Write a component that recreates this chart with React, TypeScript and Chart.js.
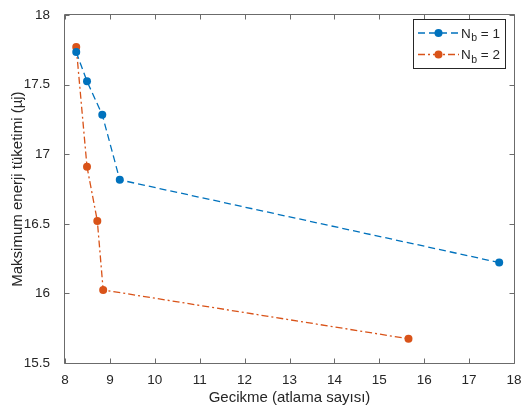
import React, { useEffect, useRef } from "react";
import { Chart, registerables } from "chart.js";

Chart.register(...registerables);

// ---- data ----
const nb1X = [8.25, 8.49, 8.83, 9.22, 17.67];
const nb1Y = [17.734, 17.524, 17.284, 16.816, 16.222];
const nb2X = [8.25, 8.49, 8.72, 8.85, 15.65];
const nb2Y = [17.771, 16.91, 16.521, 16.025, 15.674];
const seriesNames = ["1", "2"];
const xTitle = "Gecikme (atlama sayısı)";
const yTitle = "Maksimum enerji tüketimi (µj)";
const xMin = 8, xMax = 18, xStep = 1;
const yMin = 15.5, yMax = 18, yStep = 0.5;

const BLUE = "#0072BD";
const ORANGE = "#D95319";
const TEXT = "#262626";
const AXIS = "#6b6b6b";
const FONT = "'Liberation Sans', Arial, Helvetica, sans-serif";

const boxPlugin = {
  id: "matlabBox",
  afterDatasetsDraw(chart: any) {
    const { ctx, chartArea: ca, scales } = chart;
    const L = Math.round(ca.left) - 0.5;
    const R = Math.round(ca.right) + 0.5;
    const T = Math.round(ca.top) - 0.5;
    const B = Math.round(ca.bottom) + 0.5;
    ctx.save();
    ctx.strokeStyle = AXIS;
    ctx.lineWidth = 1;
    ctx.beginPath();
    ctx.rect(L, T, R - L, B - T);
    ctx.stroke();
    const tl = 5;
    ctx.beginPath();
    scales.x.ticks.forEach((t: any) => {
      const px = Math.round(scales.x.getPixelForValue(t.value)) + 0.5;
      ctx.moveTo(px, B);
      ctx.lineTo(px, B - tl);
      ctx.moveTo(px, T);
      ctx.lineTo(px, T + tl);
    });
    scales.y.ticks.forEach((t: any) => {
      const py = Math.round(scales.y.getPixelForValue(t.value)) + 0.5;
      ctx.moveTo(L, py);
      ctx.lineTo(L + tl, py);
      ctx.moveTo(R, py);
      ctx.lineTo(R - tl, py);
    });
    ctx.stroke();
    ctx.restore();
  },
};

const legendPlugin = {
  id: "matlabLegend",
  afterDraw(chart: any) {
    const { ctx } = chart;
    const bx = 413.5, by = 19.5, bw = 92, bh = 49;
    ctx.save();
    ctx.fillStyle = "#ffffff";
    ctx.fillRect(bx, by, bw, bh);
    ctx.strokeStyle = TEXT;
    ctx.lineWidth = 1;
    ctx.strokeRect(bx, by, bw, bh);
    const rows = [33, 54.5];
    chart.data.datasets.forEach((ds: any, i: number) => {
      const y = rows[i];
      ctx.strokeStyle = ds.borderColor;
      ctx.lineWidth = ds.borderWidth;
      ctx.setLineDash(ds.borderDash || []);
      ctx.beginPath();
      ctx.moveTo(418, y);
      ctx.lineTo(459, y);
      ctx.stroke();
      ctx.setLineDash([]);
      ctx.fillStyle = ds.pointBackgroundColor;
      ctx.beginPath();
      ctx.arc(438.5, y, 4, 0, Math.PI * 2);
      ctx.fill();
      ctx.fillStyle = TEXT;
      ctx.textBaseline = "alphabetic";
      ctx.textAlign = "left";
      ctx.font = `13.5px ${FONT}`;
      const base = y + 4.7;
      ctx.fillText("N", 461, base);
      const nW = ctx.measureText("N").width;
      ctx.font = `10.5px ${FONT}`;
      ctx.fillText("b", 461 + nW + 0.5, base + 3.6);
      const bW = ctx.measureText("b").width;
      ctx.font = `13.5px ${FONT}`;
      ctx.fillText(" = " + seriesNames[i], 461 + nW + 0.5 + bW, base);
    });
    ctx.restore();
  },
};

function makeData(xs: number[], ys: number[]) {
  return xs.map((x, i) => ({ x, y: ys[i] }));
}

const fmt = (v: any) => String(Math.round(Number(v) * 10) / 10);

export default function App() {
  const ref = useRef<HTMLCanvasElement | null>(null);
  useEffect(() => {
    if (!ref.current) return;
    const chart = new Chart(ref.current, {
      type: "line",
      data: {
        datasets: [
          {
            label: "N_b = 1",
            data: makeData(nb1X, nb1Y),
            borderColor: BLUE,
            backgroundColor: BLUE,
            pointBackgroundColor: BLUE,
            pointBorderColor: BLUE,
            pointRadius: 4,
            pointBorderWidth: 0,
            borderWidth: 1.3,
            borderDash: [7, 4],
            fill: false,
            tension: 0,
          },
          {
            label: "N_b = 2",
            data: makeData(nb2X, nb2Y),
            borderColor: ORANGE,
            backgroundColor: ORANGE,
            pointBackgroundColor: ORANGE,
            pointBorderColor: ORANGE,
            pointRadius: 4,
            pointBorderWidth: 0,
            borderWidth: 1.3,
            borderDash: [7, 3, 2, 3],
            fill: false,
            tension: 0,
          },
        ],
      } as any,
      options: {
        responsive: false,
        animation: false,
        layout: { padding: { top: 9, right: 10, left: 0, bottom: 0 } },
        plugins: {
          legend: { display: false },
          tooltip: { enabled: false },
        },
        scales: {
          x: {
            type: "linear",
            min: xMin,
            max: xMax,
            grid: { display: false },
            border: { display: false },
            ticks: {
              stepSize: xStep,
              color: TEXT,
              font: { family: FONT, size: 13.5 },
              padding: 1,
              maxRotation: 0,
              callback: fmt,
            },
            title: {
              display: true,
              text: xTitle,
              color: TEXT,
              font: { family: FONT, size: 15 },
              padding: { top: 0, bottom: 9 },
            },
            afterFit(scale: any) {
              scale.height = 53;
            },
          },
          y: {
            type: "linear",
            min: yMin,
            max: yMax,
            grid: { display: false },
            border: { display: false },
            ticks: {
              stepSize: yStep,
              color: TEXT,
              font: { family: FONT, size: 13.5 },
              padding: 7,
              callback: fmt,
            },
            title: {
              display: true,
              text: yTitle,
              color: TEXT,
              font: { family: FONT, size: 15 },
              padding: { top: 9, bottom: 0 },
            },
            afterFit(scale: any) {
              scale.width = 65;
            },
          },
        },
      } as any,
      plugins: [boxPlugin, legendPlugin],
    });
    return () => chart.destroy();
  }, []);
  return (
    <div style={{ position: "fixed", left: 0, top: 0, width: 524, height: 416, background: "#fff" }}>
      <canvas ref={ref} width={524} height={416} style={{ width: 524, height: 416 }} />
    </div>
  );
}
